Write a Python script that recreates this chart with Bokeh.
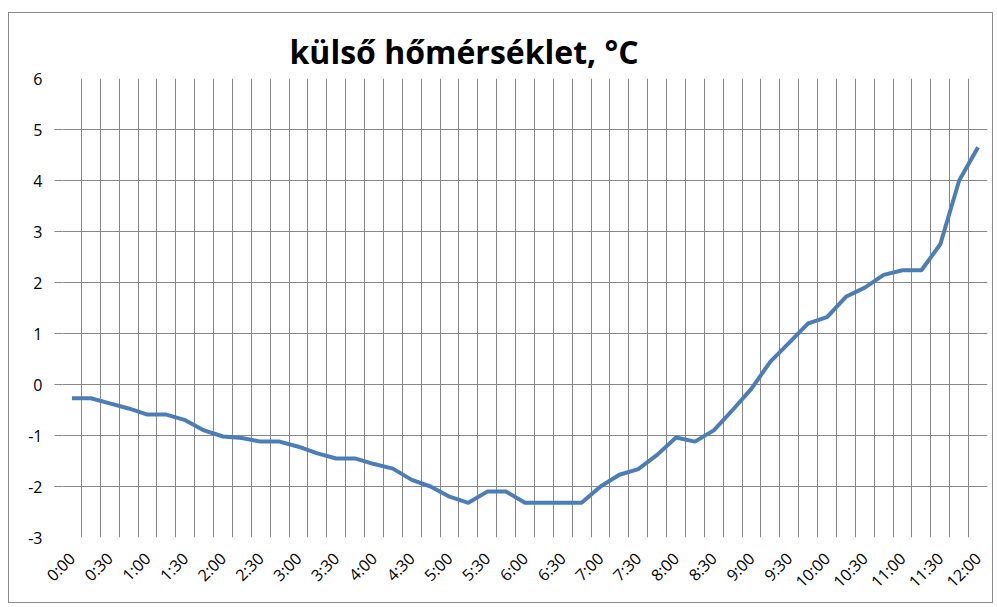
import math
from bokeh.plotting import figure
from bokeh.models import FixedTicker, Range1d, LinearAxis
from bokeh.embed import file_html
from bokeh.resources import INLINE

# 15-minute categories
times = ["0:00", "0:15", "0:30", "0:45", "1:00", "1:15", "1:30", "1:45",
         "2:00", "2:15", "2:30", "2:45", "3:00", "3:15", "3:30", "3:45",
         "4:00", "4:15", "4:30", "4:45", "5:00", "5:15", "5:30", "5:45",
         "6:00", "6:15", "6:30", "6:45", "7:00", "7:15", "7:30", "7:45",
         "8:00", "8:15", "8:30", "8:45", "9:00", "9:15", "9:30", "9:45",
         "10:00", "10:15", "10:30", "10:45", "11:00", "11:15", "11:30", "11:45",
         "12:00"]

temps = [-0.27, -0.27, -0.37, -0.47, -0.59, -0.59, -0.70, -0.90, -1.02, -1.05, -1.12, -1.12,
         -1.22, -1.35, -1.45, -1.45, -1.56, -1.65, -1.87, -2.00, -2.20, -2.32, -2.10, -2.10,
         -2.32, -2.32, -2.32, -2.32, -2.00, -1.77, -1.66, -1.38, -1.04, -1.12, -0.90, -0.50,
         -0.08, 0.45, 0.82, 1.20, 1.32, 1.72, 1.90, 2.15, 2.24, 2.24, 2.75, 4.00, 4.65]

# tick labels every 30 minutes
x_labels = ["0:00", "0:30", "1:00", "1:30", "2:00", "2:30", "3:00", "3:30", "4:00",
            "4:30", "5:00", "5:30", "6:00", "6:30", "7:00", "7:30", "8:00", "8:30",
            "9:00", "9:30", "10:00", "10:30", "11:00", "11:30", "12:00"]
y_ticks = [-3, -2, -1, 0, 1, 2, 3, 4, 5, 6]
y_grid = [-2, -1, 0, 1, 2, 3, 4, 5]

title_text = "külső hőmérséklet, °C"

n = len(times)
# each category occupies 2 units; points at category centers
xs = [2 * times.index(t) + 1 for t in times]
label_pos = [2 * times.index(t) + 1 for t in x_labels]

GRID = "#878787"
FONT = "Open Sans"

p = figure(frame_width=925, frame_height=459, output_backend="svg", toolbar_location=None,
           x_range=Range1d(0, 2 * n), y_range=Range1d(-3, 6),
           min_border_left=53, min_border_right=5, min_border_top=65,
           min_border_bottom=64, y_axis_location=None)
p.styles = {"border": "1px solid #8a8a8a", "margin-left": "8px", "margin-top": "12px"}
p.outline_line_color = None
p.background_fill_color = "white"
p.border_fill_color = "white"

p.title.text = title_text
p.title.text_font = FONT
p.title.text_font_size = "32px"
p.title.text_font_style = "bold"
p.title.text_color = "black"
p.title.align = "left"
p.title.offset = 227
p.title.standoff = 11

# grids
p.xgrid.ticker = FixedTicker(ticks=list(range(0, 2 * n + 1, 2)))
p.xgrid.grid_line_color = GRID
p.xgrid.grid_line_width = 1

# x axis
xa = p.xaxis[0]
xa.ticker = FixedTicker(ticks=label_pos)
xa.major_label_overrides = {pos: lab for pos, lab in zip(label_pos, x_labels)}
xa.major_label_orientation = math.pi / 4
xa.axis_line_color = None
xa.major_tick_line_color = None
xa.minor_tick_line_color = None
xa.major_label_text_font = FONT
xa.major_label_text_font_size = "16px"
xa.major_label_text_color = "black"
xa.major_label_standoff = 12

# inner y axis: only the short tick stubs of the gridlines
ya_ticks = LinearAxis(ticker=FixedTicker(ticks=y_grid))
ya_ticks.major_label_overrides = {t: "" for t in y_grid}
ya_ticks.major_label_standoff = 0
ya_ticks.axis_line_color = None
ya_ticks.major_tick_line_color = GRID
ya_ticks.major_tick_out = 8
ya_ticks.major_tick_in = 0
ya_ticks.minor_tick_line_color = None
p.add_layout(ya_ticks, "left")

# outer y axis: the labels
ya = LinearAxis(ticker=FixedTicker(ticks=y_ticks))
ya.major_label_overrides = {t: str(t) for t in y_ticks}
ya.axis_line_color = None
ya.major_tick_line_color = None
ya.major_tick_out = 0
ya.major_tick_in = 0
ya.minor_tick_line_color = None
ya.major_label_text_font = FONT
ya.major_label_text_font_size = "16px"
ya.major_label_text_color = "black"
ya.major_label_standoff = 12
p.add_layout(ya, "left")

p.ygrid.grid_line_color = None
from bokeh.models import Grid
p.add_layout(Grid(dimension=1, ticker=FixedTicker(ticks=y_grid),
                  grid_line_color=GRID, grid_line_width=1))

p.line(xs, temps, line_color="#4a7ebb", line_width=4)

open("out.html", "w").write(file_html(p, INLINE))
